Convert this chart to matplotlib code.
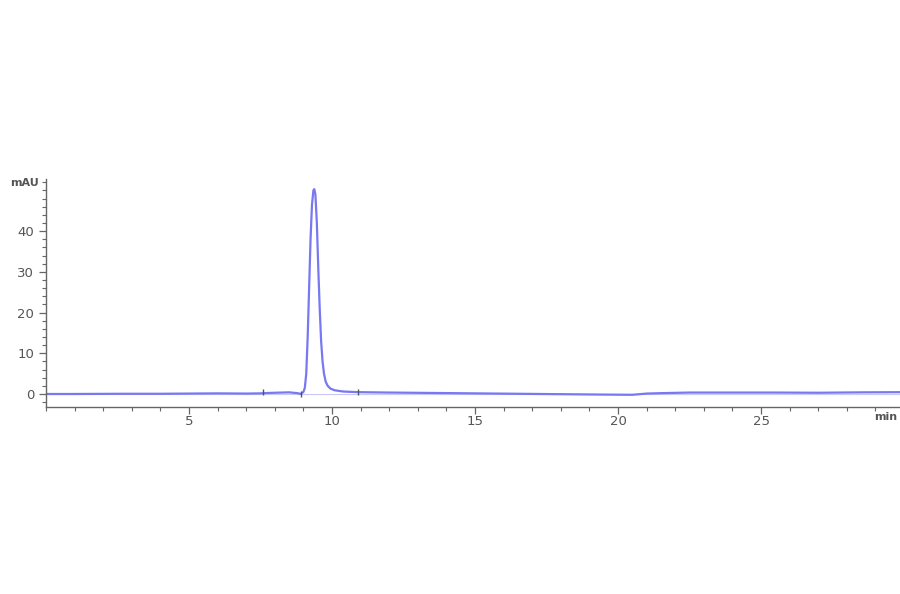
import numpy as np
import matplotlib.pyplot as plt
from matplotlib.ticker import MultipleLocator

# chromatogram trace (time in min, signal in mAU)
time_min = [0.0, 1.0, 2.7, 4.0, 5.0, 6.0, 7.0, 7.5, 7.6, 8.0, 8.5, 8.8, 8.9,
            9.0, 9.05, 9.1, 9.15, 9.2, 9.25, 9.3, 9.35, 9.38, 9.42, 9.47,
            9.52, 9.57, 9.62, 9.67, 9.72, 9.78, 9.85, 9.95, 10.1, 10.4,
            10.9, 12.0, 13.5, 15.0, 16.5, 18.0, 19.5, 20.5, 21.0, 21.5,
            22.5, 24.0, 25.5, 27.0, 28.5, 30.0]
signal_mau = [0.0, 0.0, 0.05, 0.05, 0.1, 0.15, 0.1, 0.15, 0.2, 0.3, 0.4, 0.2, 0.0,
              0.5, 1.5, 5.0, 14.0, 26.0, 38.0, 46.5, 50.0, 50.3, 49.0, 42.0,
              31.0, 21.0, 13.0, 8.0, 5.0, 3.0, 2.0, 1.3, 0.9, 0.6,
              0.45, 0.35, 0.25, 0.15, 0.05, -0.05, -0.15, -0.2, 0.1, 0.2,
              0.35, 0.35, 0.35, 0.3, 0.4, 0.45]

# small event marks on the baseline
mark_times = [7.6, 8.9, 10.9]
mark_levels = [0.5, 0.0, 0.5]

x_ticks = [5, 10, 15, 20, 25]
y_ticks = [0, 10, 20, 30, 40]

fig = plt.figure(figsize=(9, 5.94), dpi=100, facecolor='white')
ax = fig.add_axes([0.0511, 0.3148, 0.9489, 0.3839])

ax.axhline(0, color='#c8c8f4', linewidth=0.8, zorder=1)
ax.plot(time_min, signal_mau, color='#7878f2', linewidth=1.6, zorder=2)
ax.plot(mark_times, mark_levels, linestyle='none', marker='|',
        markersize=4, color='#555555', markeredgewidth=1.0, zorder=3)

ax.set_xlim(0, 29.86)
ax.set_ylim(-3.2, 52.8)
ax.set_xticks(x_ticks)
ax.set_yticks(y_ticks)
ax.xaxis.set_minor_locator(MultipleLocator(1))
ax.yaxis.set_minor_locator(MultipleLocator(2))

for side in ['top', 'right']:
    ax.spines[side].set_visible(False)
for side in ['left', 'bottom']:
    ax.spines[side].set_color('#666666')
    ax.spines[side].set_linewidth(1.0)

ax.tick_params(axis='both', which='major', direction='out', length=5,
               width=0.9, colors='#666666', labelsize=9.5,
               labelcolor='#555555')
ax.tick_params(axis='both', which='minor', direction='out', length=3,
               width=0.8, colors='#666666')
ax.tick_params(axis='x', pad=1)

fig.text(0.011, 0.692, 'mAU', fontsize=8, fontweight='bold', color='#555555',
         ha='left', va='center')
fig.text(0.997, 0.298, 'min', fontsize=8, fontweight='bold', color='#555555',
         ha='right', va='center')

fig.savefig('out.png', dpi=100, facecolor='white')
